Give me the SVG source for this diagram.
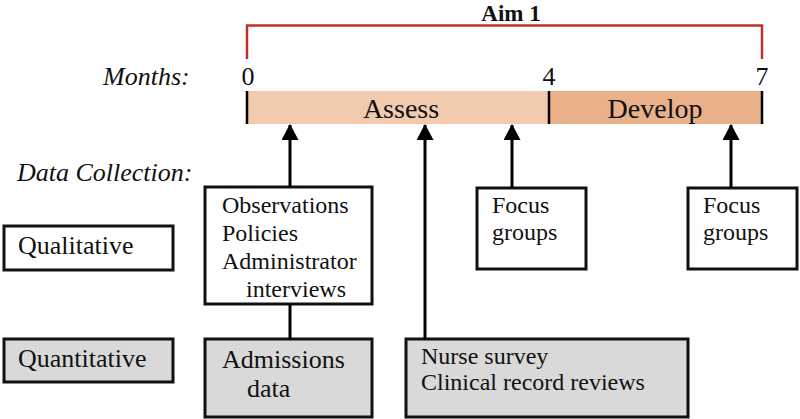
<svg xmlns="http://www.w3.org/2000/svg" width="800" height="419" viewBox="0 0 800 419">
<defs>
<marker id="ah" markerUnits="userSpaceOnUse" markerWidth="16" markerHeight="17" refX="15" refY="8.5" orient="auto" viewBox="0 0 16 17">
<path d="M0,0 L16,8.5 L0,17 z" fill="#000"/>
</marker>
</defs>
<style>
text{font-family:"Liberation Serif","Times New Roman",serif;fill:#111}
.it{font-style:italic;font-size:26px}
.lbl{font-size:26px}
.bx{font-size:24px}
.box{fill:#fff;stroke:#111;stroke-width:3}
.gray{fill:#d9d9d9;stroke:#111;stroke-width:3}
.conn{stroke:#000;stroke-width:3;fill:none}
.tick{stroke:#000;stroke-width:2.5}
</style>
<rect width="800" height="419" fill="#fff"/>
<g id="aim">
<text x="511" y="21" text-anchor="middle" font-weight="bold" font-size="23">Aim 1</text>
<path d="M247,59 V25.5 H762 V59" fill="none" stroke="#c0302a" stroke-width="2.5"/>
</g>
<g id="months">
<text class="it" x="103" y="85">Months:</text>
<text class="lbl" x="248" y="85" text-anchor="middle">0</text>
<text class="lbl" x="549" y="85" text-anchor="middle">4</text>
<text class="lbl" x="762" y="85" text-anchor="middle">7</text>
</g>
<g id="assess">
<rect x="247" y="91" width="302" height="33" fill="#f2cbaf"/>
<text x="401" y="118" text-anchor="middle" font-size="28">Assess</text>
</g>
<g id="develop">
<rect x="549" y="91" width="213" height="33" fill="#e9b08a"/>
<text x="655" y="118" text-anchor="middle" font-size="28">Develop</text>
</g>
<g id="ticks">
<line class="tick" x1="247" y1="91" x2="247" y2="124"/>
<line class="tick" x1="549" y1="91" x2="549" y2="124"/>
<line class="tick" x1="762" y1="91" x2="762" y2="124"/>
</g>
<g id="datacollection">
<text class="it" x="17" y="181">Data Collection:</text>
</g>
<g id="qualitative">
<rect class="box" x="4" y="226" width="169" height="44"/>
<text class="lbl" x="18" y="254">Qualitative</text>
</g>
<g id="quantitative">
<rect class="gray" x="4" y="339" width="169" height="43"/>
<text class="lbl" x="18" y="367">Quantitative</text>
</g>
<g id="observations">
<rect class="box" x="205" y="187" width="167" height="117"/>
<text class="bx" x="222" y="213">Observations</text>
<text class="bx" x="222" y="241">Policies</text>
<text class="bx" x="222" y="269">Administrator</text>
<text class="bx" x="246" y="297">interviews</text>
</g>
<g id="admissions">
<rect class="gray" x="205" y="339" width="167" height="78"/>
<text class="lbl" x="222" y="368">Admissions</text>
<text class="lbl" x="247" y="397">data</text>
</g>
<g id="nurse">
<rect class="gray" x="406" y="339" width="282" height="78"/>
<text class="bx" x="421" y="364">Nurse survey</text>
<text class="bx" x="421" y="390">Clinical record reviews</text>
</g>
<g id="focus1">
<rect class="box" x="477" y="188" width="109" height="81"/>
<text class="bx" x="492" y="213">Focus</text>
<text class="bx" x="492" y="240">groups</text>
</g>
<g id="focus2">
<rect class="box" x="688" y="188" width="109" height="81"/>
<text class="bx" x="703" y="213">Focus</text>
<text class="bx" x="703" y="240">groups</text>
</g>
<g id="connectors">
<line class="conn" x1="290" y1="187" x2="290" y2="125" marker-end="url(#ah)"/>
<line class="conn" x1="425" y1="339" x2="425" y2="125" marker-end="url(#ah)"/>
<line class="conn" x1="512" y1="188" x2="512" y2="125" marker-end="url(#ah)"/>
<line class="conn" x1="731" y1="188" x2="731" y2="125" marker-end="url(#ah)"/>
<line class="conn" x1="290" y1="304" x2="290" y2="339"/>
</g>
</svg>
